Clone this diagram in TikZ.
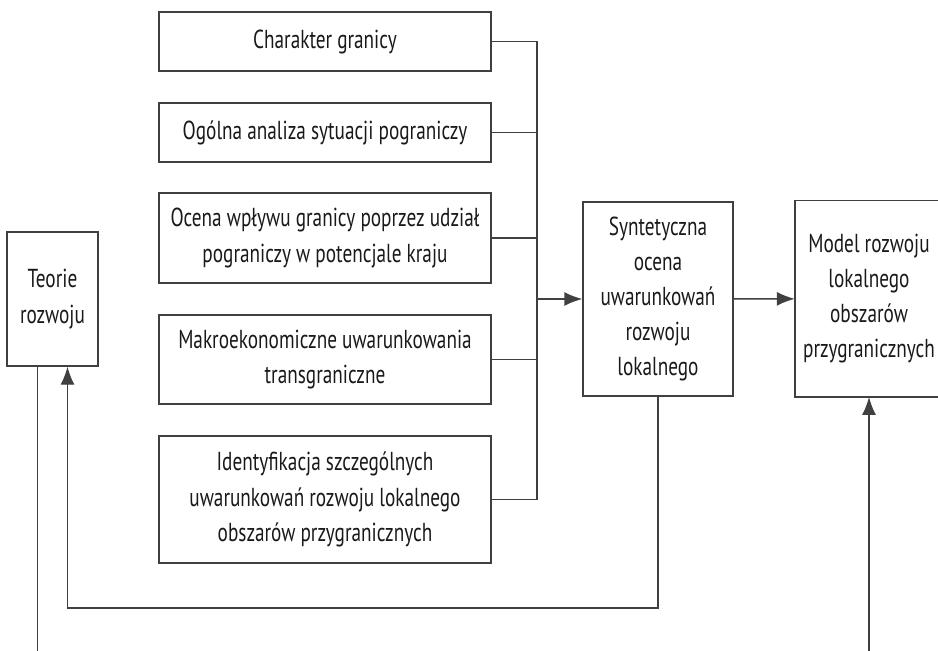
\documentclass[tikz,border=0pt]{standalone}
\usepackage{fontspec}
\setmainfont[FakeStretch=0.74]{PT Sans}
\usetikzlibrary{arrows.meta}
\begin{document}
\begin{tikzpicture}[scale=1,
  box/.style={draw=black!75, line width=0.8pt, align=center, inner sep=0pt,
    font=\fontsize{14.8}{20}\selectfont, text=black!90},
  link/.style={draw=black!75, line width=0.8pt},
  >={Latex[length=3.6mm,width=2.8mm]}]
\useasboundingbox (0,0) rectangle (18.76,-13.02);
\node[box, minimum width=6.64cm, minimum height=1.18cm] (b1) at (6.5,-0.83) {Charakter granicy};
\node[box, minimum width=6.64cm, minimum height=1.18cm] (b2) at (6.5,-2.65) {Ogólna analiza sytuacji pograniczy};
\node[box, minimum width=6.64cm, minimum height=1.8cm] (b3) at (6.5,-4.76) {Ocena wpływu granicy poprzez udział\\pograniczy w potencjale kraju};
\node[box, minimum width=6.64cm, minimum height=1.78cm] (b4) at (6.5,-7.19) {Makroekonomiczne uwarunkowania\\transgraniczne};
\node[box, minimum width=6.64cm, minimum height=2.54cm] (b5) at (6.5,-9.99) {Identyfikacja szczególnych\\uwarunkowań rozwoju lokalnego\\obszarów przygranicznych};
\node[box, minimum width=3cm, minimum height=3.88cm] (synt) at (13.16,-5.98) {Syntetyczna\\ocena\\uwarunkowań\\rozwoju\\lokalnego};
\node[box, draw=none, minimum width=2.94cm, minimum height=3.9cm] (model) at (17.38,-5.975) {Model rozwoju\\lokalnego\\obszarów\\przygranicznych};
\node[box, minimum width=1.82cm, minimum height=2.68cm] (teorie) at (1.05,-5.98) {Teorie\\rozwoju};
\coordinate (bus) at (10.74,0);
\coordinate (loop) at (0,-12.16);
\coordinate (foot) at (0,-13.2);
% right box runs off the page
\draw[link] (model.north east) ++(0.4,0) -- (model.north west) -- (model.south west) -- ++(3.4,0);
\draw[link] (b1.east) -- (b1.east -| bus);
\draw[link] (b2.east) -- (b2.east -| bus);
\draw[link] (b3.east) -- (b3.east -| bus);
\draw[link] (b4.east) -- (b4.east -| bus);
\draw[link] (b5.east) -- (b5.east -| bus);
\draw[link] (b1.east -| bus) -- (b5.east -| bus);
\draw[link, ->] (synt.west -| bus) -- (synt.west);
\draw[link, ->] (synt) -- (model);
\draw[link, ->] (synt.south) -- (synt.south |- loop) -- ([xshift=3mm]teorie.south |- loop) -- ([xshift=3mm]teorie.south);
\draw[link] ([xshift=-3mm]teorie.south) -- ([xshift=-3mm]teorie.south |- foot);
\draw[link, ->] (model.south |- foot) -- (model.south);
\end{tikzpicture}
\end{document}
